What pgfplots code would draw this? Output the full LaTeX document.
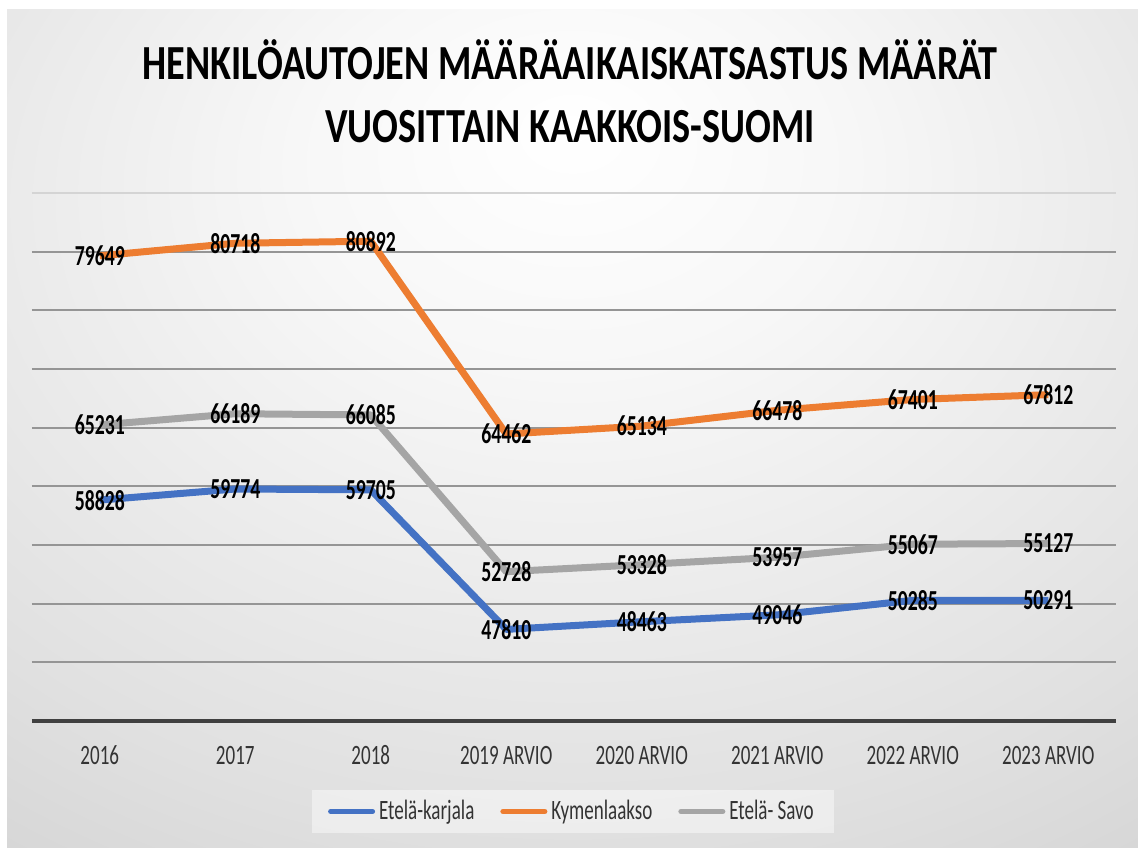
\documentclass[border=0pt]{standalone}
\usepackage{pgfplots}
\pgfplotsset{compat=1.18}
\usepackage{fontspec}
\setmainfont{Carlito}
\definecolor{cblue}{HTML}{4472C4}
\definecolor{corange}{HTML}{ED7D31}
\definecolor{cgray}{HTML}{A5A5A5}
\definecolor{gridc}{HTML}{959595}
\definecolor{axisc}{HTML}{404040}
\definecolor{tickc}{HTML}{333333}
\pgfdeclareradialshading{bgshade}{\pgfpoint{0bp}{18bp}}{%
  color(0bp)=(white);
  color(12bp)=(white!97!black);
  color(35bp)=(white!88!black);
  color(50bp)=(white!81!black);
  color(70bp)=(white!76!black);
  color(95bp)=(white!69!black)}
\newcommand{\sq}[1]{\scalebox{0.68}[1]{#1}}
\begin{document}
\begin{tikzpicture}
\useasboundingbox (0,0) rectangle (569pt,-423.5pt);
\fill[white] (0,0) rectangle (569pt,-423.5pt);
\shade[shading=bgshade] (3.5pt,-4.5pt) rectangle (569pt,-423.5pt);
\node[anchor=base, font=\fontsize{24.5}{28}\selectfont\bfseries] at (285pt,-39.5pt)
  {\scalebox{0.78}[1]{HENKILÖAUTOJEN MÄÄRÄAIKAISKATSASTUS MÄÄRÄT}};
\node[anchor=base, font=\fontsize{24.5}{28}\selectfont\bfseries] at (285pt,-71pt)
  {\scalebox{0.78}[1]{VUOSITTAIN KAAKKOIS-SUOMI}};
\begin{axis}[
  at={(16pt,-360.5pt)}, anchor=south west,
  scale only axis, width=542pt, height=264pt,
  xmin=-0.5, xmax=7.5, ymin=40000, ymax=85000,
  scaled y ticks=false,
  /pgf/number format/assume math mode=true,
  /pgf/number format/1000 sep={},
  axis x line*=bottom, axis y line*=left,
  x axis line style={draw=axisc, line width=2pt, -},
  y axis line style={draw=none},
  xtick={0,...,7},
  xticklabels={2016,2017,2018,2019 ARVIO,2020 ARVIO,2021 ARVIO,2022 ARVIO,2023 ARVIO},
  xticklabel style={anchor=center, yshift=-17pt, text=tickc, font=\fontsize{14}{16}\selectfont, xscale=0.68},
  major tick length=0pt,
  ytick={45000,50000,...,80000},
  yticklabels={},
  ymajorgrids,
  major grid style={draw=gridc, line width=1pt},
  extra y ticks={85000},
  extra y tick labels={},
  extra y tick style={major grid style={draw=white!83!black, line width=0.8pt}},
  clip=false,
  nodes near coords,
  every node near coord/.style={anchor=center, text=black, font=\fontsize{14.5}{16}\selectfont\bfseries, xscale=0.68, inner sep=0pt},
  legend columns=-1,
  legend style={at={(0.499,-0.1714)}, anchor=center, draw=none, fill=white, fill opacity=0.45, text opacity=1,
     font=\fontsize{14}{16}\selectfont, text=tickc, inner xsep=8pt, inner ysep=3pt,
     /tikz/every even column/.append style={column sep=11pt}},
  legend cell align=left,
  legend image code/.code={\draw[#1, line width=2.5pt, line cap=round] (0pt,0pt) -- (21pt,0pt);},
]
\addplot[cblue, line width=3.5pt, line join=round] coordinates {
(0,58828) (1,59774) (2,59705) (3,47810) (4,48463) (5,49046) (6,50285) (7,50291)};
\addlegendentry{\sq{Etelä-karjala}}
\addplot[corange, line width=3.5pt, line join=round] coordinates {
(0,79649) (1,80718) (2,80892) (3,64462) (4,65134) (5,66478) (6,67401) (7,67812)};
\addlegendentry{\sq{Kymenlaakso}}
\addplot[cgray, line width=3.5pt, line join=round] coordinates {
(0,65231) (1,66189) (2,66085) (3,52728) (4,53328) (5,53957) (6,55067) (7,55127)};
\addlegendentry{\sq{Etelä- Savo}}
\end{axis}
\end{tikzpicture}
\end{document}
